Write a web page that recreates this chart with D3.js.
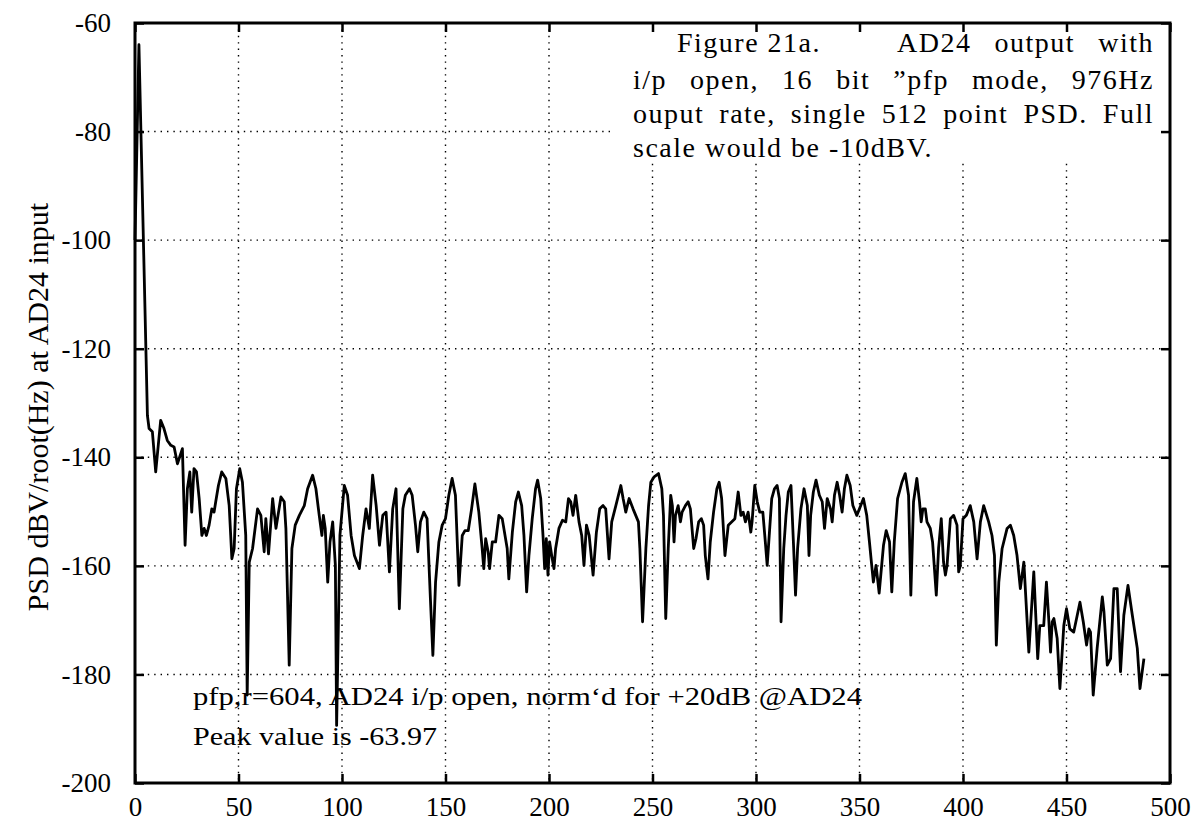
<!DOCTYPE html>
<html><head><meta charset="utf-8">
<script src="https://cdn.jsdelivr.net/npm/d3@7"></script>
<style>body{margin:0;background:#fff;} svg{display:block;}</style>
</head><body>
<svg id="c" width="1195" height="823"></svg>
<script>
// ---- data ----
const freq = [0,1.9,6.0,6.8,8.4,10.0,12.4,14.0,15.6,17.3,18.9,20.5,22.9,24.2,25.3,26.5,27.4,28.5,29.7,31.0,32.3,33.4,34.5,35.8,37.1,38.2,39.0,40.3,41.9,43.9,45.5,46.8,47.9,49.0,50.6,51.9,53.5,54.2,55.2,56.8,59.2,60.8,62.4,63.2,64.5,66.5,68.1,70.5,72.1,72.9,74.5,75.8,77.4,79.4,81.8,83.4,85.8,87.4,89.0,90.3,91.0,91.9,93.1,94.2,95.5,96.8,97.4,99.0,101.1,102.7,104.4,106.0,108.4,110.0,111.6,113.2,114.8,116.5,118.1,119.7,121.3,122.9,124.5,126.1,127.7,129.4,130.6,132.6,133.9,135.5,136.6,137.9,139.5,141.1,142.7,143.9,145.2,146.8,148.4,150.0,151.6,153.2,154.8,156.5,158.1,159.4,161.0,162.6,164.2,166.1,167.7,168.5,169.4,170.6,171.3,172.6,174.2,175.8,177.4,179.8,180.6,182.3,183.9,185.2,186.8,187.9,189.2,190.3,191.9,193.5,194.5,196.0,197.1,197.9,198.7,199.5,200.3,201.3,202.4,203.2,204.8,206.5,208.1,209.4,210.5,211.6,212.9,214.5,215.8,216.9,218.1,219.4,221.3,222.9,224.5,226.1,227.4,229.0,230.3,232.3,234.7,235.8,237.1,238.7,240.6,241.9,243.2,243.9,245.2,246.8,248.1,249.2,250.8,252.9,254.5,255.3,256.4,257.6,258.8,259.6,260.4,261.1,262.4,263.5,264.3,265.9,267.2,268.3,269.9,271.0,272.3,273.6,274.7,275.5,276.8,277.9,279.5,281.1,282.2,283.4,285.0,286.6,288.2,289.8,291.4,292.7,293.8,294.9,296.2,297.5,298.1,299.4,300.6,301.8,303.3,304.5,305.4,306.5,307.6,308.9,310.2,311.3,312.1,313.4,314.5,315.6,316.9,318.2,319.1,320.1,321.7,323.2,324.8,325.6,326.4,327.7,329.0,330.6,332.0,333.1,334.4,336.0,336.8,337.9,339.2,340.4,341.6,342.7,343.9,345.5,346.8,348.7,350.6,351.9,353.5,354.8,355.9,356.7,358.0,359.5,361.6,362.9,364.5,365.6,366.8,368.4,370.5,372.1,373.7,374.8,376.1,377.7,379.0,379.8,380.6,381.8,382.6,384.2,385.3,387.1,388.2,389.5,390.6,391.5,392.3,393.9,395.5,397.1,397.9,398.7,400.0,401.6,403.5,405.2,406.8,408.4,410.0,412.4,414.0,415.2,416.1,417.3,418.9,421.3,422.9,424.5,426.1,427.7,429.4,431.8,434.2,436.1,437.1,439.0,440.3,441.5,442.3,443.1,443.9,445.5,446.8,448.7,450.0,451.6,453.5,456.5,458.1,459.7,460.8,461.6,462.9,464.8,467.3,468.1,469.7,471.3,472.9,474.5,476.1,477.7,479.7,481.8,484.2,485.5,487.4];
const psd = [-100,-64,-132.3,-134.7,-135.3,-142.7,-133.2,-134.7,-136.9,-137.8,-138.1,-141.2,-138.4,-156.2,-145.8,-142.7,-150.1,-142.1,-142.7,-147.6,-154.4,-153.1,-154.4,-152.5,-149.5,-150.1,-148.2,-145.2,-142.7,-143.9,-148.9,-158.7,-156.8,-145.8,-142.1,-144.6,-154.4,-183.8,-159.3,-156.8,-149.5,-150.7,-157.4,-151.3,-157.8,-147.6,-153.1,-147.3,-148.2,-153.1,-178.3,-156.8,-152.5,-150.7,-148.9,-145.8,-143.3,-145.8,-150.7,-154.4,-150.7,-153.1,-163.0,-155.6,-151.9,-159.9,-189.4,-154.4,-145.2,-147.0,-154.4,-158.1,-160.5,-154.4,-149.5,-153.1,-143.3,-148.9,-156.2,-150.7,-150.1,-161.1,-149.5,-145.8,-167.9,-149.5,-147.0,-145.8,-147.0,-152.5,-157.4,-151.9,-150.1,-151.3,-166.0,-176.5,-163.0,-155.6,-152.5,-151.3,-147.0,-143.9,-147.0,-163.6,-154.4,-153.5,-153.5,-149.5,-144.9,-150.1,-156.8,-160.5,-155.0,-157.4,-160.5,-155.6,-155.6,-150.7,-151.3,-156.8,-162.4,-153.8,-148.2,-146.4,-148.9,-154.4,-164.8,-158.1,-151.3,-145.8,-144.2,-147.6,-154.4,-160.5,-155.0,-161.7,-155.6,-158.1,-160.5,-156.8,-153.1,-151.6,-151.9,-147.6,-148.2,-150.7,-147.0,-151.9,-154.4,-159.9,-152.5,-154.4,-161.7,-153.8,-149.5,-148.9,-149.5,-158.7,-151.9,-148.9,-145.2,-147.6,-150.1,-147.6,-149.5,-150.7,-151.9,-156.8,-170.3,-156.8,-148.9,-144.6,-143.6,-143.0,-145.8,-150.7,-169.7,-156.8,-147.0,-148.9,-155.6,-150.7,-148.9,-151.9,-150.1,-148.9,-148.2,-149.5,-156.8,-155.0,-151.9,-151.3,-152.5,-158.1,-162.4,-155.6,-150.1,-145.8,-144.6,-147.6,-158.1,-152.5,-151.9,-151.3,-146.4,-150.7,-150.1,-151.9,-150.1,-153.8,-151.9,-145.2,-148.2,-150.1,-150.1,-155.6,-159.9,-153.8,-147.6,-145.8,-145.2,-147.6,-170.3,-156.8,-150.7,-146.4,-145.2,-156.8,-165.4,-156.8,-149.5,-145.8,-148.9,-158.1,-150.7,-146.4,-144.2,-147.0,-148.2,-153.1,-147.6,-149.5,-151.9,-147.0,-144.6,-147.0,-150.1,-145.8,-143.3,-145.2,-148.9,-150.7,-148.9,-147.6,-150.7,-155.6,-159.9,-163.0,-159.9,-165.0,-156.2,-153.5,-155.6,-164.8,-155.6,-147.6,-144.6,-143.0,-147.0,-165.4,-148.2,-143.9,-148.2,-151.9,-149.5,-149.5,-151.9,-153.1,-155.6,-165.4,-156.8,-151.3,-159.3,-161.7,-159.9,-151.3,-150.7,-152.5,-161.1,-159.9,-151.3,-150.7,-148.9,-151.9,-158.7,-151.9,-148.9,-151.9,-154.4,-158.1,-174.6,-163.0,-156.8,-153.1,-152.5,-154.4,-158.1,-164.2,-159.3,-175.9,-161.1,-177.1,-171.0,-171.0,-163.0,-170.3,-175.9,-170.3,-169.7,-173.4,-182.6,-171.0,-167.9,-171.6,-172.2,-166.7,-170.3,-174.6,-171.6,-172.2,-183.8,-175.2,-165.7,-168.5,-178.3,-177.1,-164.2,-164.2,-179.5,-169.1,-163.6,-169.1,-175.2,-182.6,-177.1];
const xTicks = [0,50,100,150,200,250,300,350,400,450,500];
const yTicks = [-60,-80,-100,-120,-140,-160,-180,-200];
const yTitle = "PSD dBV/root(Hz) at AD24 input";
const noteHead = ["Figure 21a.", "AD24 output with"];
const noteLines = ["i/p open, 16 bit \u201dpfp mode, 976Hz", "ouput rate, single 512 point PSD. Full", "scale would be -10dBV."];
const bottomNotes = ["pfp,r=604, AD24 i/p open, norm\u2018d for +20dB @AD24", "Peak value is -63.97"];

// ---- layout ----
const L = 135, R = 1170, T = 23, B = 783;
const svg = d3.select("#c");
const x = d3.scaleLinear().domain([0, 500]).range([L, R]);
const y = d3.scaleLinear().domain([-200, -60]).range([B, T]);
const serif = "'Liberation Serif','Times New Roman',serif";

// grid
const grid = svg.append("g").attr("stroke", "#000").attr("stroke-width", 1.4).attr("stroke-dasharray", "1.4,5");
grid.selectAll("line.v").data(xTicks.slice(1, -1)).join("line")
  .attr("x1", d => x(d)).attr("x2", d => x(d)).attr("y1", T).attr("y2", B);
grid.selectAll("line.h").data(yTicks.slice(1, -1)).join("line")
  .attr("x1", L).attr("x2", R).attr("y1", d => y(d)).attr("y2", d => y(d));

// white note box (hides grid)
svg.append("rect").attr("x", 612).attr("y", T).attr("width", R - 612).attr("height", 140).attr("fill", "#fff");

// data line
const line = d3.line().x((d, i) => x(freq[i])).y(d => y(d));
svg.append("path").datum(psd).attr("d", line).attr("fill", "none")
  .attr("stroke", "#000").attr("stroke-width", 2.8).attr("stroke-linejoin", "round");

// axes (inward ticks)
const fmt = d => String(d);
const ax = svg.append("g");
ax.append("g").attr("transform", `translate(0,${B})`)
  .call(d3.axisBottom(x).tickValues(xTicks).tickSizeInner(-9).tickSizeOuter(0).tickPadding(14).tickFormat(fmt));
ax.append("g").attr("transform", `translate(0,${T})`)
  .call(d3.axisTop(x).tickValues(xTicks).tickSizeInner(-9).tickSizeOuter(0).tickFormat(""));
ax.append("g").attr("transform", `translate(${L},0)`)
  .call(d3.axisLeft(y).tickValues(yTicks).tickSizeInner(-9).tickSizeOuter(0).tickPadding(24).tickFormat(fmt));
ax.append("g").attr("transform", `translate(${R},0)`)
  .call(d3.axisRight(y).tickValues(yTicks).tickSizeInner(-9).tickSizeOuter(0).tickFormat(""));
ax.selectAll(".domain").remove();
ax.selectAll(".tick line").attr("stroke", "#000").attr("stroke-width", 2.5);
ax.selectAll(".tick text").attr("font-family", serif).attr("font-size", 27).attr("fill", "#000");

// frame
svg.append("rect").attr("x", L).attr("y", T).attr("width", R - L).attr("height", B - T)
  .attr("fill", "none").attr("stroke", "#000").attr("stroke-width", 3);

// y title
svg.append("text").attr("transform", `translate(48,407) rotate(-90)`)
  .attr("text-anchor", "middle").attr("font-family", serif).attr("font-size", 30).text(yTitle);

// note box text (justified via word-spacing)
const noteStyle = sel => sel.attr("font-family", serif).attr("font-size", 28).attr("letter-spacing", 1.5);
const textL = 633, textR = 1154;
let ws = 0;
[[89, true], [123, true], [157, false]].forEach(([yy, just], i) => {
  const el = svg.append("text").attr("x", textL).attr("y", yy).call(noteStyle).text(noteLines[i]);
  if (just) {
    const natural = el.node().getComputedTextLength();
    const gaps = (noteLines[i].match(/ /g) || []).length;
    const w = ((textR - textL) - natural) / gaps;
    el.attr("word-spacing", w);
    if (i === 0) ws = w;
  }
});
svg.append("text").attr("x", 677).attr("y", 52).call(noteStyle).text(noteHead[0]);
svg.append("text").attr("x", textR).attr("y", 52).attr("text-anchor", "end").call(noteStyle)
  .attr("word-spacing", ws).text(noteHead[1]);

// bottom notes
svg.append("text").attr("x", 193).attr("y", 705).attr("font-family", serif).attr("font-size", 26)
  .attr("textLength", 669).attr("lengthAdjust", "spacingAndGlyphs").text(bottomNotes[0]);
svg.append("text").attr("x", 193).attr("y", 745).attr("font-family", serif).attr("font-size", 26)
  .attr("textLength", 244).attr("lengthAdjust", "spacingAndGlyphs").text(bottomNotes[1]);
</script>
</body></html>
